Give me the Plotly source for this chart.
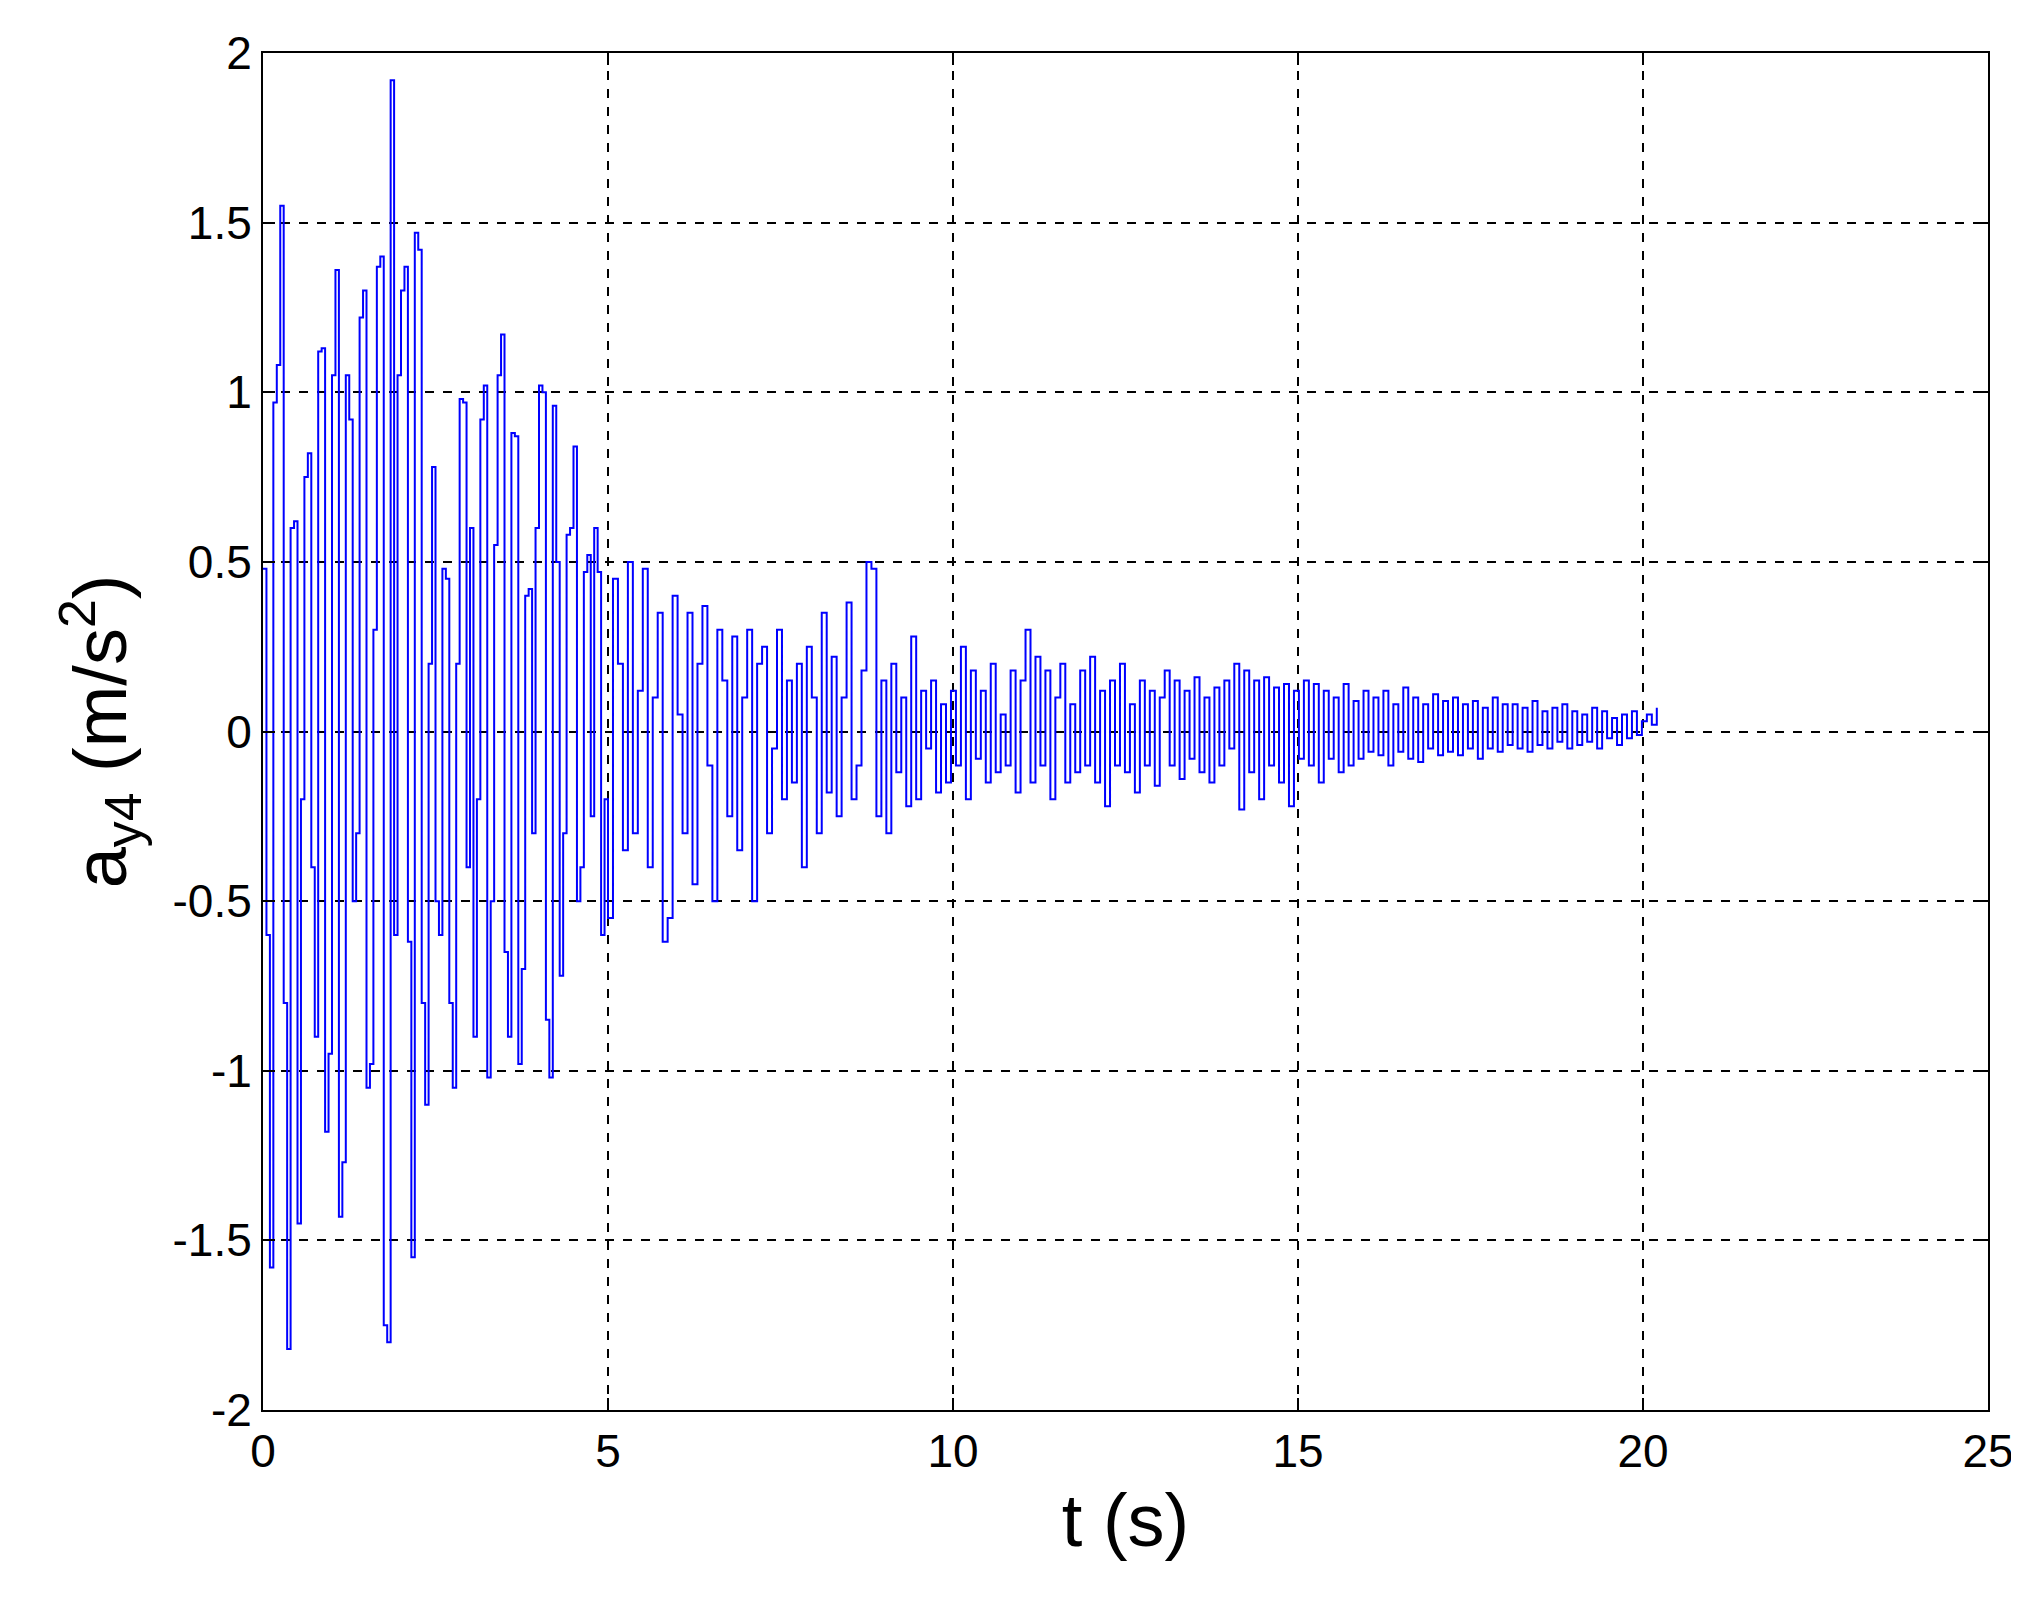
import plotly.graph_objects as go

a1 = [0.48,-0.6,-1.58,0.97,1.08,1.55,-0.8,-1.82,0.6,0.62,-1.45,-0.2,0.75,0.82,-0.4,-0.9,1.12,1.13,-1.18,-0.95,
      1.05,1.36,-1.43,-1.27,1.05,0.92,-0.5,-0.3,1.22,1.3,-1.05,-0.98,0.3,1.37,1.4,-1.75,-1.8,1.92,-0.6,1.05,
      1.3,1.37,-0.62,-1.55,1.47,1.42,-0.8,-1.1,0.2,0.78,-0.5,-0.6,0.48,0.45,-0.8,-1.05,0.2,0.98,0.97,-0.4,
      0.6,-0.9,-0.2,0.92,1.02,-1.02,-0.5,0.55,1.05,1.17,-0.65,-0.9,0.88,0.87,-0.98,-0.7,0.4,0.42,-0.3,0.6,
      1.02,1.0,-0.85,-1.02,0.96,0.5,-0.72,-0.3,0.58,0.6,0.84,-0.5,-0.4,0.47,0.52,-0.25,0.6,0.47,-0.6,-0.2]
a2 = [-0.55,0.45,0.2,-0.35,0.5,-0.3,0.12,0.48,-0.4,0.1,0.35,-0.62,-0.55,0.4,
      0.05,-0.3,0.35,-0.45,0.2,0.37,-0.1,-0.5,0.3,0.15,-0.25,0.28,-0.35,0.1,
      0.3,-0.5,0.2,0.25,-0.3,-0.05,0.3,-0.2,0.15,-0.15,0.2,-0.4,0.25,0.1,
      -0.3,0.35,-0.18,0.22,-0.25,0.1,0.38,-0.2,-0.1,0.18,0.5,0.48,-0.25,0.15,
      -0.3,0.2,-0.12,0.1,-0.22,0.28,-0.2,0.12,-0.05,0.15,-0.18,0.08,-0.15,0.12,
      -0.1,0.25,-0.2,0.18,-0.08,0.12,-0.15,0.2,-0.12,0.05,-0.1,0.18,-0.18,0.15,
      0.3,-0.15,0.22,-0.1,0.18,-0.2,0.1,0.2,-0.15,0.08,-0.12,0.18,-0.1,0.22,
      -0.15,0.12,-0.22,0.15,-0.1,0.2,-0.12,0.08,-0.18,0.15,-0.1,0.12,-0.16,0.1,
      0.18,-0.1,0.15,-0.14,0.12,-0.08,0.16,-0.12,0.1,-0.15,0.13,-0.1,0.15,-0.05,
      0.2,-0.23,0.18,-0.12,0.15,-0.2,0.16,-0.1,0.13,-0.15,0.14,-0.22,0.12,-0.08,
      0.15,-0.1,0.14,-0.15,0.12,-0.08,0.1,-0.12,0.14,-0.1,0.09,-0.08,0.12,-0.06,
      0.1,-0.07,0.12,-0.1,0.08,-0.06,0.13,-0.08,0.1,-0.09,0.08,-0.05,0.11,-0.07,
      0.09,-0.06,0.1,-0.07,0.08,-0.05,0.09,-0.08,0.07,-0.05,0.1,-0.06,0.08,-0.04,
      0.08,-0.05,0.07,-0.06,0.09,-0.04,0.06,-0.05,0.07,-0.03,0.08,-0.05,0.06,-0.04,
      0.05,-0.03,0.07,-0.05,0.06,-0.02,0.04,-0.04,0.05,-0.02,0.06,-0.01,0.03,0.05,0.02,0.07]
t1 = [i * 0.05 for i in range(len(a1))]
t2 = [5 + i * (15.2 / (len(a2) - 1)) for i in range(len(a2))]

t = t1 + t2
a = a1 + a2

fig = go.Figure(go.Scatter(x=t, y=a, mode="lines", line=dict(color="#0000ff", width=2, shape="hv")))

font = "Arial, Liberation Sans"
ax = dict(showline=True, linecolor="black", linewidth=2, mirror="ticks", ticks="inside",
          ticklen=12, tickwidth=2, tickcolor="black", showgrid=True, gridcolor="black",
          griddash="dash", gridwidth=1.5, zeroline=False,
          tickfont=dict(family=font, size=46, color="black"))
fig.update_xaxes(range=[0, 25], tickvals=[0,5,10,15,20,25], **ax,
                 title=dict(text="t (s)", font=dict(family=font, size=74, color="black"), standoff=18))
fig.update_yaxes(range=[-2, 2], tickvals=[-2,-1.5,-1,-0.5,0,0.5,1,1.5,2],
                 ticktext=["-2","-1.5","-1","-0.5","0","0.5","1","1.5","2"], **ax,
                 title=dict(text="a<sub>y4</sub> (m/s<sup>2</sup>)", font=dict(family=font, size=74, color="black"), standoff=22))
fig.update_layout(width=2019, height=1600, margin=dict(l=255, r=39, t=45, b=198),
                  plot_bgcolor="white", paper_bgcolor="white", showlegend=False)
fig.write_html("out.html")
